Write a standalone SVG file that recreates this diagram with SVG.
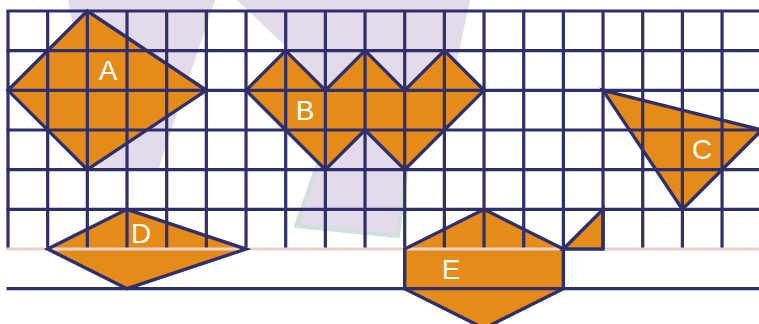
<svg xmlns="http://www.w3.org/2000/svg" width="759" height="324" viewBox="0 0 759 324">
<style>
.bg{fill:#e3dbe9}
.fill{fill:#e48b19;stroke:none}
.edge{fill:none;stroke:#2f2f6c;stroke-width:3.4;stroke-linejoin:miter}
.grid{fill:none;stroke:#2f2f6c;stroke-width:3.2}
.lbl{font-family:"Liberation Sans",Arial,sans-serif;font-size:28px;fill:#ffffff;text-anchor:middle}
</style>
<rect width="759" height="324" fill="#ffffff"/>
<g id="background">
<polygon class="bg" points="68,0 215,0 158,170 100,170"/>
<polygon class="bg" points="237,0 470,0 455,70 415,110 330,130 300,60"/>
<polygon class="bg" points="330,130 410,140 398,236 296,226" style="stroke:#cfe2da;stroke-width:4"/>
</g>
<g id="fills">
<polygon class="fill" points="87.34,11 206.35,90.34 87.34,169.68 8,90.34"/>
<polygon class="fill" points="246.02,90.34 285.69,50.67 325.36,90.34 365.03,50.67 404.7,90.34 444.37,50.67 484.04,90.34 444.37,130.01 404.7,169.68 365.03,130.01 325.36,169.68 285.69,130.01"/>
<polygon class="fill" points="603.05,90.34 761.73,130.01 682.39,209.35"/>
<polygon class="fill" points="127.01,209.35 246.02,249.02 127.01,288.69 47.67,249.02"/>
<polygon class="fill" points="484.04,209.35 563.38,249.02 563.38,288.69 484.04,328.36 404.7,288.69 404.7,249.02"/>
<polygon class="fill" points="563.38,249.02 603.05,209.35 603.05,249.02"/>
</g>
<g id="grid">
<path class="grid" d="M8 11V249M47.67 11V249M87.34 11V249M127.01 11V249M166.68 11V249M206.35 11V249M246.02 11V249M285.69 11V249M325.36 11V249M365.03 11V249M404.7 11V249M444.37 11V249M484.04 11V249M523.71 11V249M563.38 11V249M603.05 11V249M642.72 11V249M682.39 11V249M722.06 11V249"/>
<path class="grid" d="M6.5 11H759M6.5 50.67H759M6.5 90.34H759M6.5 130.01H759M6.5 169.68H759M6.5 209.35H759M6.5 288.69H759"/>
<path d="M6.5 249.02H759" fill="none" stroke="#ecd2cb" stroke-width="3"/>
</g>
<g id="A"><polygon class="edge" points="87.34,11 206.35,90.34 87.34,169.68 8,90.34"/><text class="lbl" x="108" y="80">A</text></g>
<g id="B"><polygon class="edge" points="246.02,90.34 285.69,50.67 325.36,90.34 365.03,50.67 404.7,90.34 444.37,50.67 484.04,90.34 444.37,130.01 404.7,169.68 365.03,130.01 325.36,169.68 285.69,130.01"/><text class="lbl" x="305" y="120">B</text></g>
<g id="C"><polygon class="edge" points="603.05,90.34 761.73,130.01 682.39,209.35"/><text class="lbl" x="702" y="159">C</text></g>
<g id="D"><polygon class="edge" points="127.01,209.35 246.02,249.02 127.01,288.69 47.67,249.02"/><text class="lbl" x="141" y="243">D</text></g>
<g id="E"><polygon class="edge" points="484.04,209.35 563.38,249.02 563.38,288.69 484.04,328.36 404.7,288.69 404.7,249.02"/><polygon class="edge" points="563.38,249.02 603.05,209.35 603.05,249.02"/><text class="lbl" x="451" y="279">E</text></g>
</svg>
